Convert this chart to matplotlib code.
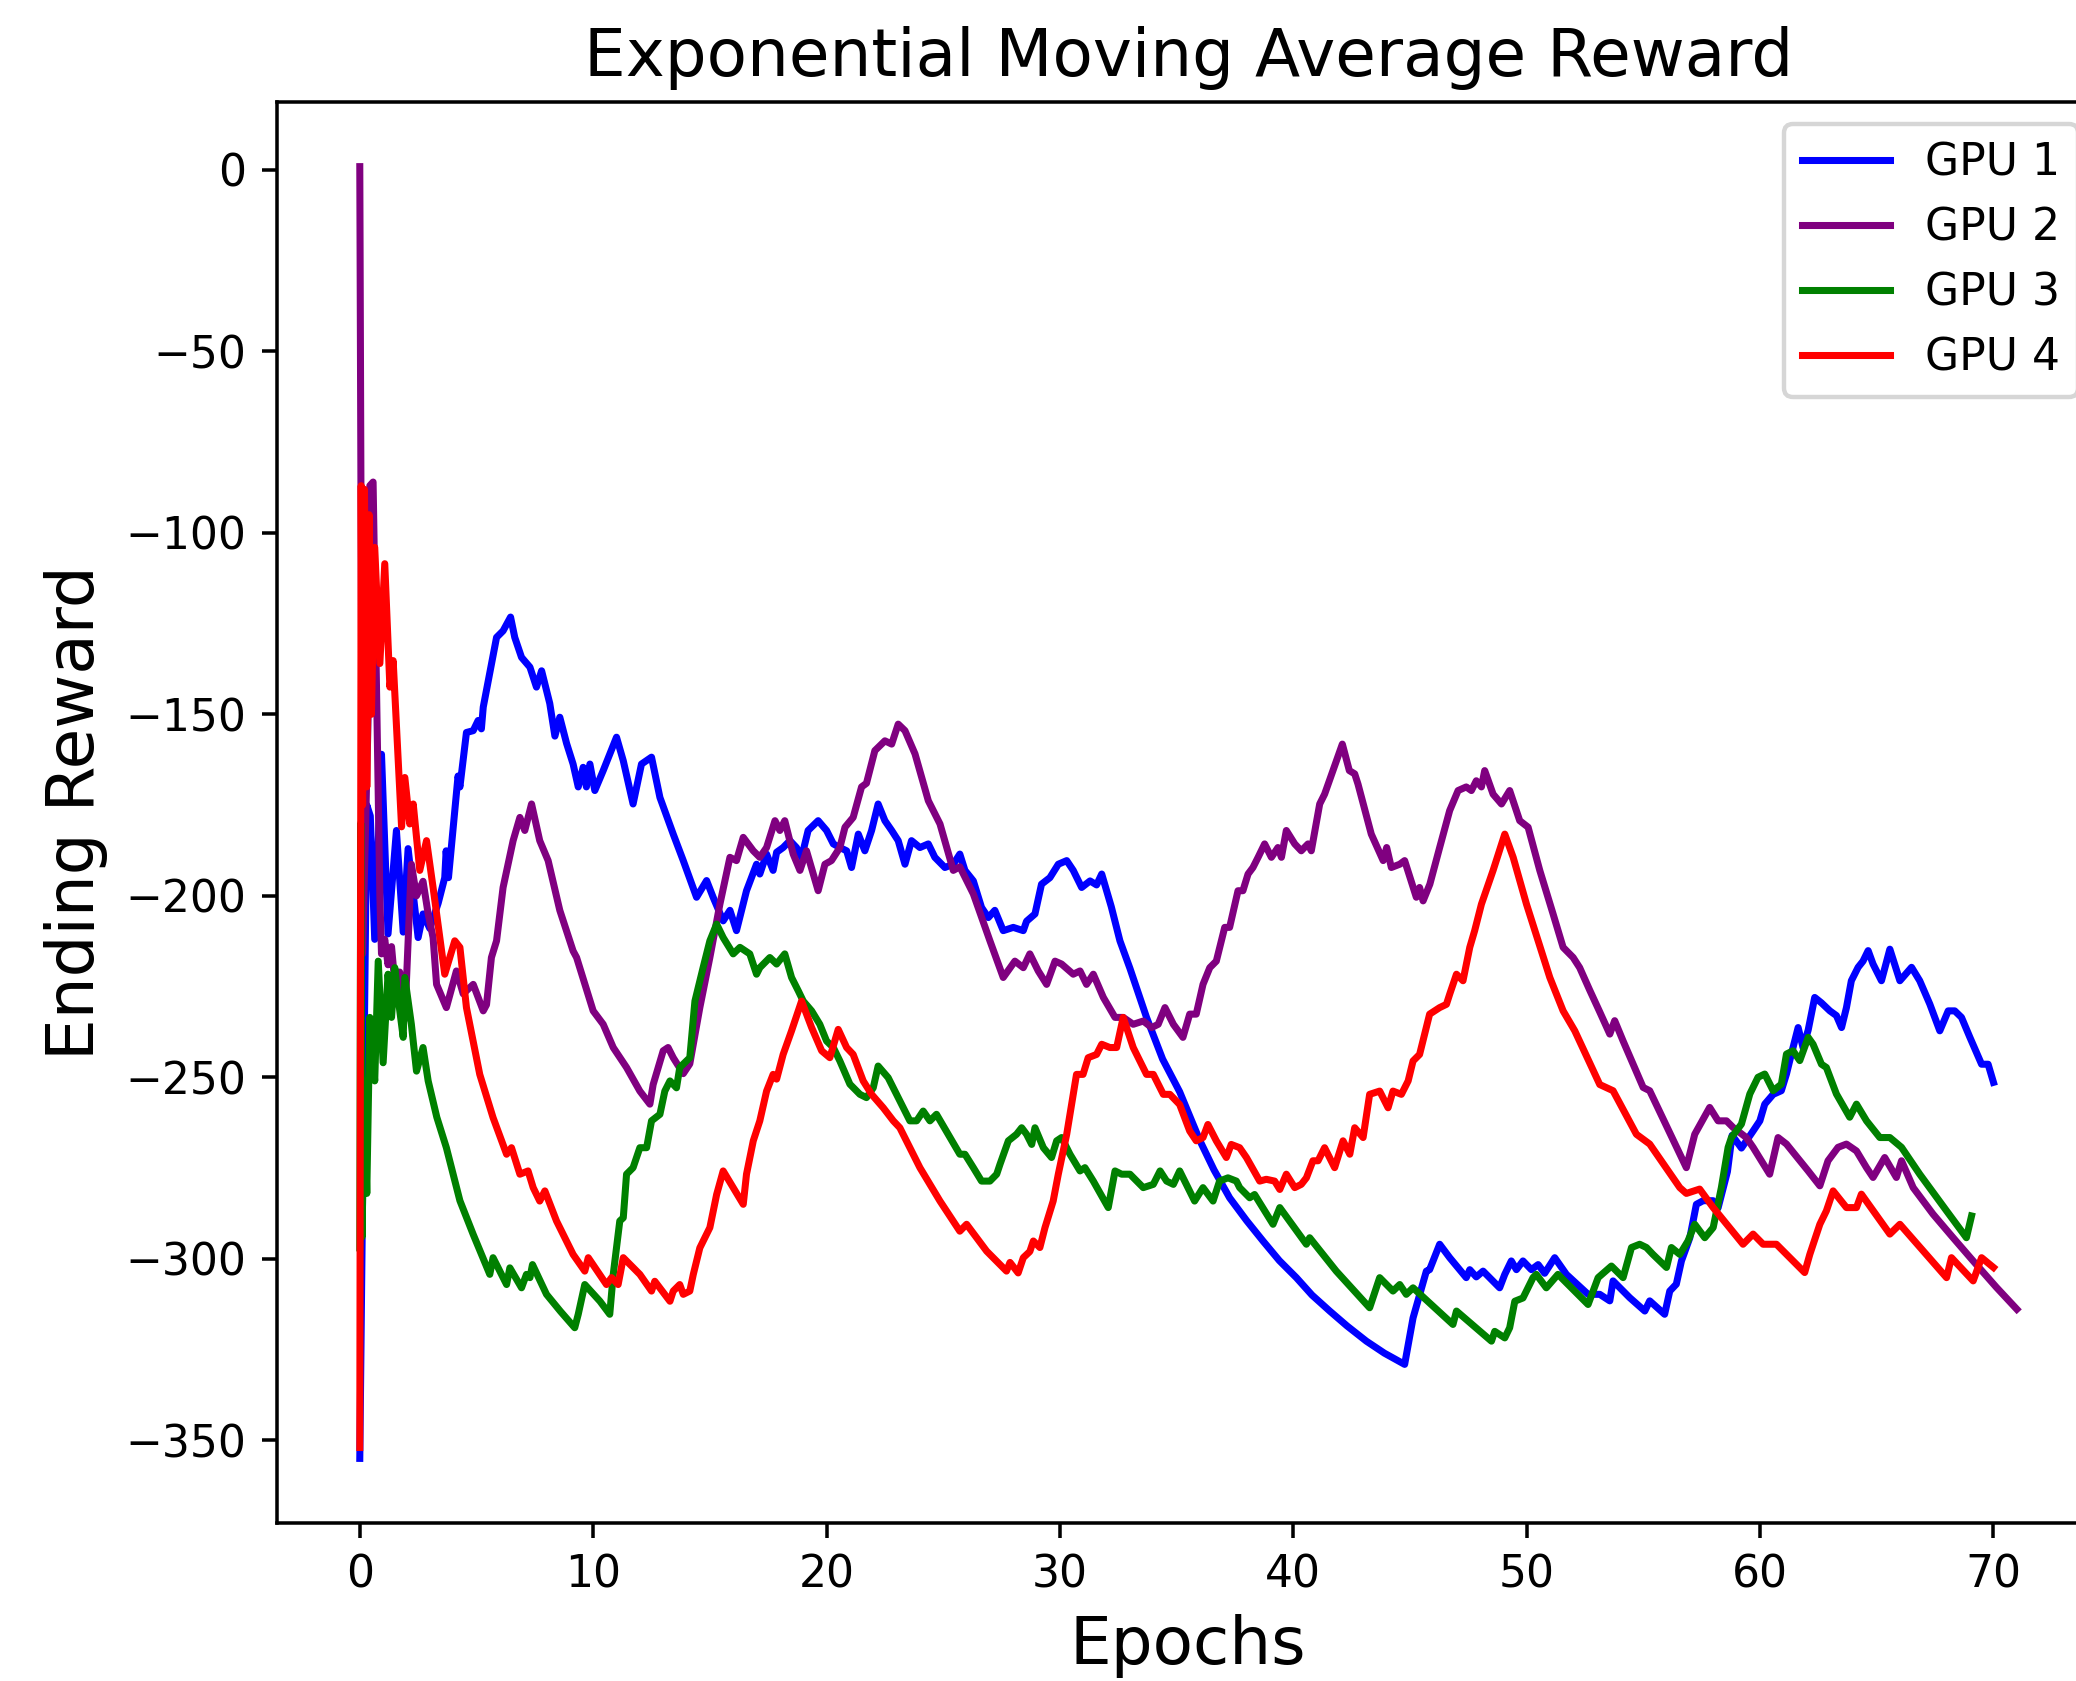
import numpy as np
import matplotlib
matplotlib.use('Agg')
import matplotlib.pyplot as plt

# values (epoch, ema reward)
gpu1_epoch = [
    0.0, 0.3, 0.45, 0.64, 0.93, 1.21, 1.57, 1.86, 2.07, 2.5, 2.71, 3.0, 3.36, 3.64, 3.7, 3.8,
    4.21, 4.29, 4.57, 4.86, 5.07, 5.21, 5.29, 5.86, 6.14, 6.46, 6.64, 6.93, 7.29, 7.57, 7.79,
    8.14, 8.36, 8.57, 8.86, 9.14, 9.36, 9.57, 9.71, 9.86, 10.07, 10.43, 10.71, 11.0, 11.29,
    11.71, 12.07, 12.5, 12.86, 13.43, 13.86, 14.43, 14.86, 15.14, 15.57, 15.86, 16.14, 16.57,
    17.0, 17.14, 17.43, 17.71, 17.86, 18.14, 18.43, 18.71, 18.93, 19.21, 19.64, 20.0, 20.29,
    20.57, 20.86, 21.07, 21.36, 21.64, 21.93, 22.21, 22.5, 22.79, 23.07, 23.36, 23.64, 24.0,
    24.36, 24.64, 25.07, 25.43, 25.71, 25.93, 26.29, 26.64, 26.93, 27.21, 27.57, 28.0, 28.43,
    28.57, 28.93, 29.21, 29.57, 29.93, 30.29, 30.57, 30.93, 31.29, 31.57, 31.79, 32.2, 32.57,
    33.0, 33.71, 34.4, 35.13, 36.0, 36.6, 37.27, 38.0, 38.7, 39.4, 40.13, 40.8, 41.56, 42.3,
    43.13, 43.9, 44.77, 45.13, 45.7, 45.84, 46.27, 46.7, 47.41, 47.56, 47.84, 48.13, 48.41,
    48.84, 49.06, 49.34, 49.56, 49.84, 50.2, 50.49, 50.77, 51.2, 51.7, 52.63, 53.13, 53.56,
    53.7, 54.41, 55.06, 55.27, 55.91, 56.13, 56.41, 56.63, 56.99, 57.27, 57.56, 57.99, 58.2,
    58.6, 58.8, 59.2, 59.7, 59.99, 60.2, 60.56, 60.91, 61.13, 61.34, 61.63, 61.84, 62.06,
    62.34, 62.63, 62.99, 63.27, 63.49, 63.7, 63.91, 64.2, 64.41, 64.63, 64.84, 65.2, 65.56,
    65.99, 66.49, 66.84, 67.27, 67.7, 68.06, 68.34, 68.63, 68.99, 69.49, 69.77, 70.0,
]
gpu1_reward = [
    -355, -175, -178, -212, -161, -210.5, -182, -210, -187, -211.5, -205, -209, -202, -195,
    -187.6, -195, -167, -170, -155, -154.5, -151.7, -154, -148, -128.8, -127, -123.2, -128.8,
    -134.3, -137, -142.5, -138, -147, -156, -150.8, -158, -163.7, -170, -164.6, -170, -163.7,
    -171, -165.5, -161, -156.3, -162.8, -174.7, -163.7, -161.8, -172.9, -183, -190.3, -200.4,
    -195.8, -200.4, -206.9, -204, -209.6, -198.6, -191.3, -194, -188.5, -193, -188, -186.7,
    -184.8, -186.7, -189.4, -182, -179.3, -182, -185.7, -186.7, -187.6, -192.2, -183, -187.6,
    -182, -174.7, -179.3, -182, -184.8, -191.3, -184.8, -186.7, -185.7, -189.4, -192.2,
    -191.3, -188.5, -193, -195.9, -203.2, -206, -204, -209.6, -208.7, -209.6, -207, -205,
    -196.8, -195, -191.3, -190.3, -193, -197.7, -195.9, -197, -194, -203, -212.4, -220,
    -233.5, -245, -254, -267.5, -275.5, -283.2, -289.5, -295.1, -300.5, -305.2, -310, -314.4,
    -318.5, -322.7, -326, -329.1, -316.3, -303.4, -303, -296, -299.7, -305.2, -303, -305,
    -303.4, -305.2, -308, -304.3, -300.6, -303, -300.6, -303, -301.6, -304, -299.7, -304.3,
    -309.8, -309.8, -311.6, -306.1, -310.7, -314.4, -311.6, -315.3, -308.9, -307, -300.6,
    -294.2, -285, -284, -284, -286, -276, -266, -269.5, -264.8, -262, -257.4, -254.7, -253.7,
    -249.1, -243.6, -236.3, -241.8, -237, -228, -229.5, -231.7, -233, -236.3, -230.8, -223.4,
    -219.7, -218, -215.1, -218.8, -223.4, -214.7, -223.4, -219.7, -223.4, -229.8, -237.2,
    -231.7, -231.7, -233.5, -239, -246.4, -246.4, -251.4,
]

gpu2_epoch = [
    0.0, 0.12, 0.36, 0.43, 0.57, 0.71, 0.86, 0.93, 1.07, 1.21, 1.36, 1.5, 1.71, 1.93, 2.07,
    2.21, 2.43, 2.71, 2.93, 3.14, 3.29, 3.71, 4.14, 4.43, 4.86, 5.29, 5.43, 5.64, 5.86, 6.14,
    6.57, 6.86, 7.07, 7.36, 7.71, 8.07, 8.57, 9.14, 9.29, 10.0, 10.43, 10.86, 11.43, 12.0,
    12.43, 12.57, 13.0, 13.21, 13.43, 13.86, 14.14, 14.57, 15.0, 15.43, 15.86, 16.14, 16.43,
    16.86, 17.14, 17.43, 17.79, 18.0, 18.21, 18.57, 18.86, 19.14, 19.64, 19.93, 20.21, 20.57,
    20.79, 21.14, 21.5, 21.71, 22.07, 22.5, 22.79, 23.07, 23.36, 23.79, 24.36, 24.86, 25.43,
    25.71, 26.29, 27.0, 27.57, 28.07, 28.43, 28.71, 29.07, 29.43, 29.79, 30.07, 30.57, 30.86,
    31.14, 31.43, 31.86, 32.36, 32.71, 33.14, 33.57, 33.93, 34.21, 34.5, 34.86, 35.27, 35.56,
    35.84, 36.13, 36.42, 36.7, 37.06, 37.27, 37.63, 37.84, 38.06, 38.27, 38.49, 38.77, 39.06,
    39.34, 39.49, 39.7, 40.06, 40.34, 40.63, 40.77, 41.13, 41.34, 41.7, 42.1, 42.4, 42.63,
    42.77, 43.34, 43.85, 44.0, 44.2, 44.56, 44.77, 45.27, 45.41, 45.56, 45.85, 46.27, 46.7,
    47.06, 47.41, 47.63, 47.84, 48.06, 48.2, 48.56, 48.92, 49.27, 49.7, 50.06, 50.56, 51.13,
    51.56, 51.99, 52.27, 52.7, 53.13, 53.56, 53.77, 54.13, 54.99, 55.27, 56.84, 57.2, 57.84,
    58.2, 58.56, 58.84, 59.41, 59.7, 60.41, 60.77, 61.13, 62.06, 62.56, 62.91, 63.34, 63.7,
    64.13, 64.56, 64.84, 65.34, 65.84, 66.06, 66.56, 67.41, 68.27, 69.13, 70.13, 71.0,
]
gpu2_reward = [
    0.9, -216, -150, -87, -86, -140, -200, -216, -212, -219, -214, -224, -221, -234, -213,
    -191.3, -200, -196, -205, -211.5, -224.4, -230.8, -220.7, -227, -224.4, -231.7, -230,
    -217, -212.4, -197.7, -184.8, -178.4, -182, -174.7, -184.8, -190.3, -204, -215.2, -217,
    -231.7, -235.4, -241.8, -247.3, -253.8, -257.4, -252, -242.7, -241.8, -244.6, -249,
    -246.3, -230.8, -217, -202.3, -189.4, -190.3, -183.9, -187.6, -189.4, -186.7, -179.3,
    -182, -179.3, -188.5, -193, -187.6, -198.6, -191.3, -190.3, -186.7, -181.1, -178.4, -170,
    -169, -160, -157.3, -158.2, -152.7, -154.5, -160.9, -173.8, -180.2, -193, -192, -199.5,
    -212.4, -222.5, -218, -219.8, -216, -220.7, -224.4, -218, -218.8, -221.6, -220.7, -224.4,
    -221.6, -228, -233.5, -233.5, -235.4, -234.5, -236.3, -235.4, -230.8, -235.4, -239,
    -232.6, -232.6, -224.4, -219.8, -218, -208.7, -208.7, -198.6, -198.6, -194, -192.2,
    -189.4, -185.7, -189.4, -186.7, -189.4, -182, -185.7, -187.6, -185.7, -187.6, -174.7,
    -172, -165.5, -158.2, -165.5, -166.4, -169.2, -183, -190.3, -186.7, -192.2, -191.3,
    -190.3, -200.4, -197.7, -201.4, -196.8, -186.7, -176.5, -171, -170, -171, -168.3, -170,
    -165.5, -172, -174.7, -171, -179.3, -181.1, -193, -205, -214.2, -217, -219.8, -226,
    -232, -238.1, -234.4, -240, -252.8, -253.7, -274.9, -265.7, -258.3, -262, -262, -263.8,
    -266.6, -269.3, -276.7, -266.6, -268.4, -275.8, -279.9, -273, -269.3, -268.4, -270.3,
    -274.9, -277.6, -272.1, -277.6, -273, -280.4, -287.7, -294.2, -300.6, -307.9, -313.9,
]

gpu3_epoch = [
    0.0, 0.04, 0.1, 0.18, 0.3, 0.43, 0.64, 0.79, 1.0, 1.21, 1.36, 1.5, 1.64, 1.86, 1.93, 2.21,
    2.43, 2.71, 2.93, 3.3, 3.71, 4.29, 4.86, 5.57, 5.71, 6.29, 6.43, 6.93, 7.14, 7.29, 7.4,
    8.0, 8.6, 9.21, 9.36, 9.64, 10.29, 10.71, 10.86, 11.14, 11.29, 11.43, 11.71, 11.86, 12.0,
    12.29, 12.5, 12.86, 13.07, 13.29, 13.57, 13.71, 14.14, 14.36, 14.71, 15.0, 15.29, 15.57,
    16.0, 16.29, 16.71, 17.0, 17.14, 17.57, 17.86, 18.21, 18.5, 18.79, 19.0, 19.36, 19.71,
    20.0, 20.29, 20.57, 21.0, 21.43, 21.71, 22.0, 22.21, 22.64, 23.0, 23.57, 23.86, 24.14,
    24.43, 24.71, 25.21, 25.71, 25.93, 26.29, 26.64, 27.0, 27.29, 27.43, 27.79, 28.14, 28.36,
    28.57, 28.79, 28.93, 29.29, 29.64, 29.86, 30.07, 30.43, 30.86, 31.07, 31.43, 32.07, 32.36,
    32.64, 33.0, 33.29, 33.57, 34.0, 34.29, 34.57, 34.86, 35.13, 35.77, 36.13, 36.56, 36.84,
    37.2, 37.56, 37.7, 38.13, 38.34, 39.13, 39.42, 40.56, 40.7, 41.84, 43.27, 43.7, 44.27,
    44.56, 44.84, 45.13, 46.84, 46.99, 48.49, 48.63, 49.06, 49.27, 49.49, 49.84, 50.27, 50.41,
    50.84, 51.34, 52.63, 53.06, 53.63, 54.13, 54.49, 54.84, 55.13, 55.41, 55.99, 56.2, 56.56,
    56.91, 57.2, 57.63, 57.99, 58.34, 58.63, 58.77, 59.2, 59.56, 59.91, 60.2, 60.56, 60.91,
    61.13, 61.41, 61.7, 62.06, 62.27, 62.63, 62.84, 63.27, 63.84, 64.13, 64.56, 65.13, 65.56,
    66.06, 66.84, 67.99, 68.84, 69.06,
]
gpu3_reward = [
    -297, -180, -294, -251, -282, -233.5, -251, -218, -246, -221.6, -233.5, -219.8, -228,
    -239, -222.5, -235.4, -248.3, -241.8, -251, -261, -269.4, -284, -293.3, -304.3, -299.7,
    -307.1, -302.5, -308, -304.3, -305.2, -301.6, -309.8, -314.5, -319, -315.3, -307.1,
    -311.7, -315.3, -304.3, -289.6, -288.7, -276.7, -274.9, -272.1, -269.4, -269.4, -262,
    -260.2, -253.8, -251, -252.9, -247.3, -244.6, -229, -219.8, -212.4, -207.8, -211.5, -216,
    -214.2, -216, -221.6, -219.8, -217, -218.8, -216, -222.5, -226.2, -229, -231.7, -235.4,
    -240, -241.8, -245.5, -251.9, -254.7, -255.6, -252.9, -246.9, -250.1, -254.7, -262, -262,
    -259.3, -262, -260.2, -265.7, -271.2, -271.2, -274.9, -278.6, -278.6, -276.7, -274,
    -267.5, -265.7, -263.9, -265.7, -268.5, -263.9, -269.4, -272.1, -267.5, -266.6, -271.2,
    -275.8, -274.9, -278.6, -285.9, -275.8, -276.7, -276.7, -278.6, -280.4, -279.5, -275.8,
    -278.6, -279.5, -275.8, -284.1, -280.4, -284.1, -278.6, -277.7, -278.6, -280.4, -283.2,
    -282.3, -290.5, -285.9, -296, -294.2, -303.4, -313.5, -305.2, -308.9, -307.1, -309.8,
    -308, -318.1, -314.4, -322.7, -320, -321.8, -319, -311.7, -310.8, -305.2, -304.3, -308,
    -304.3, -312.6, -305.2, -302, -305.2, -296.9, -296, -296.9, -298.8, -302.4, -296.9,
    -298.8, -295.1, -290.5, -294.2, -291.4, -280.4, -269.3, -266.6, -262.9, -254.6, -250,
    -249.1, -253.7, -251.9, -243.6, -242.7, -245.4, -239, -240.9, -246.4, -247.3, -254.6,
    -261, -257.4, -262, -266.6, -266.6, -269.3, -276.7, -286.8, -294.2, -288.2,
]

gpu4_epoch = [
    0.0, 0.06, 0.12, 0.2, 0.3, 0.4, 0.5, 0.64, 0.86, 1.07, 1.29, 1.43, 1.79, 1.93, 2.14, 2.29,
    2.57, 2.86, 3.14, 3.43, 3.64, 4.07, 4.29, 4.57, 5.14, 5.71, 6.29, 6.5, 6.86, 7.21, 7.43,
    7.71, 7.93, 8.43, 9.14, 9.64, 9.79, 10.57, 10.79, 11.07, 11.29, 12.0, 12.5, 12.64, 13.29,
    13.43, 13.71, 13.86, 14.14, 14.29, 14.57, 15.0, 15.29, 15.57, 16.0, 16.43, 16.57, 16.86,
    17.14, 17.43, 17.71, 17.86, 18.14, 18.5, 18.93, 19.36, 19.79, 20.14, 20.5, 20.86, 21.14,
    21.57, 21.93, 22.43, 22.86, 23.14, 24.0, 24.86, 25.71, 26.0, 26.86, 27.71, 27.86, 28.21,
    28.43, 28.71, 28.86, 29.14, 29.36, 29.71, 29.93, 30.29, 30.71, 30.99, 31.21, 31.57, 31.79,
    32.14, 32.43, 32.71, 33.14, 33.71, 34.0, 34.43, 34.71, 35.13, 35.56, 35.84, 36.13, 36.34,
    36.7, 37.13, 37.34, 37.7, 37.99, 38.56, 38.84, 39.2, 39.42, 39.7, 40.06, 40.34, 40.56,
    40.84, 41.06, 41.34, 41.77, 42.13, 42.42, 42.63, 42.99, 43.27, 43.7, 44.06, 44.27, 44.63,
    44.92, 45.13, 45.41, 45.84, 46.27, 46.56, 46.7, 46.99, 47.27, 47.56, 47.77, 48.06, 48.56,
    49.06, 49.42, 49.99, 50.63, 50.99, 51.56, 52.06, 53.13, 53.7, 54.7, 55.27, 56.56, 56.84,
    57.41, 57.99, 59.27, 59.7, 60.13, 60.7, 61.91, 62.13, 62.56, 62.84, 63.13, 63.7, 64.13,
    64.34, 65.56, 65.99, 67.99, 68.2, 69.13, 69.49, 70.0,
]
gpu4_reward = [
    -352, -87, -175, -88, -170, -95, -150, -104, -136, -108.5, -142.5, -135.2, -181, -167.4,
    -180.2, -174.7, -193, -184.8, -197.7, -211.5, -221.6, -212.4, -214.2, -230.8, -249.2,
    -261.1, -271.2, -269.4, -276.7, -275.8, -280.4, -284.1, -281.3, -289.6, -298.8, -303.4,
    -299.7, -307.1, -305.2, -307.1, -299.7, -304.3, -308.9, -306.2, -311.7, -308.9, -307.1,
    -309.8, -308.9, -304.3, -297, -291.4, -282.3, -275.8, -280.4, -285, -276.7, -267.5, -262,
    -253.8, -249.2, -250.5, -243.7, -237.2, -229, -236.3, -242.7, -244.6, -236.8, -241.8,
    -243.7, -251, -254.7, -258.4, -262, -263.9, -274.9, -284.1, -292.4, -290.5, -297.9,
    -303.4, -301, -303.9, -299.7, -298, -295.1, -296.9, -291.4, -284.1, -276.7, -265.7,
    -249.2, -249.2, -244.6, -243.7, -240.9, -241.8, -241.8, -233.5, -241.8, -249.2, -249.2,
    -254.7, -254.7, -257.5, -264.8, -267.5, -266.6, -263, -267.5, -272.1, -268.5, -269.4,
    -272.1, -278.6, -278.1, -278.6, -280.9, -276.7, -280.4, -279.5, -277.7, -273, -273,
    -269.4, -274.9, -267.5, -271.2, -263.9, -266.6, -254.7, -253.8, -258.4, -253.8, -254.7,
    -251, -245.5, -243.7, -232.6, -230.8, -229.9, -227.1, -221.6, -223.4, -214.2, -209.6,
    -202.3, -193, -183, -189.4, -202.3, -215.2, -222.5, -231.7, -237.2, -252, -253.7, -265.7,
    -268.4, -280.4, -282, -280.8, -285.9, -296, -293.2, -296, -296, -303.8, -298.8, -290.5,
    -286.8, -281.3, -285.9, -285.9, -282.2, -293.2, -290.5, -305.2, -299.7, -306.1, -299.7,
    -302.4,
]

series = [
    ('GPU 1', 'blue', gpu1_epoch, gpu1_reward),
    ('GPU 2', 'purple', gpu2_epoch, gpu2_reward),
    ('GPU 3', 'green', gpu3_epoch, gpu3_reward),
    ('GPU 4', 'red', gpu4_epoch, gpu4_reward),
]

# figure: the reference is cropped on the right, so the axes run past the edge
dpi = 316.8
fig = plt.figure(figsize=(2076 / dpi, 1681 / dpi), dpi=dpi)
ax = fig.add_axes([0.1334, 0.094, 0.878, 0.8453])

for label, color, x, y in series:
    ax.plot(x, y, color=color, label=label, lw=1.6)

ax.set_title('Exponential Moving Average Reward', fontsize=15)
ax.set_xlabel('Epochs', fontsize=15)
ax.set_ylabel('Ending Reward', fontsize=15)
ax.legend(loc='upper right')

fig.savefig('out.png', dpi=dpi)
